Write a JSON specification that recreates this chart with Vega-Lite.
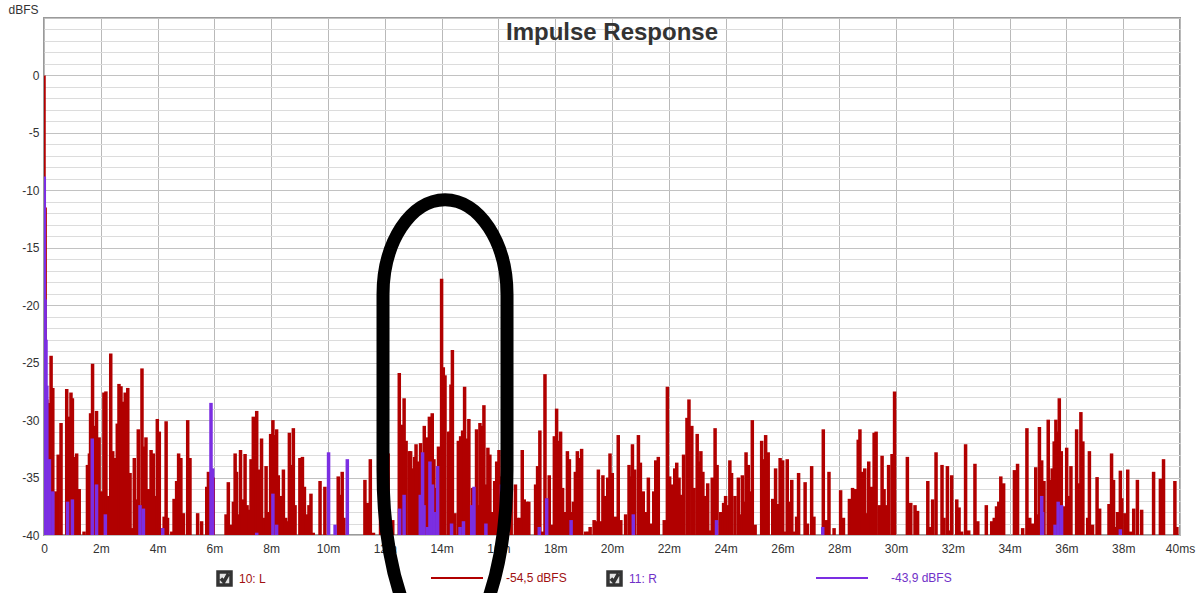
{
"$schema": "https://vega.github.io/schema/vega-lite/v6.json",
"width": 1136, "height": 517,
"autosize": {"type": "none"},
"padding": {"left": 44, "top": 18, "right": 20, "bottom": 58},
"background": "white",
"config": {"view": {"stroke": "#9a9a9a", "strokeWidth": 2}, "font": "Liberation Sans"},
"title": {"text": "Impulse Response", "font": "Liberation Sans", "fontSize": 24, "fontWeight": "bold", "color": "#333333", "anchor": "middle", "frame": "group", "orient": "top", "baseline": "top", "offset": -42},
"datasets": {
"note": [{"t": 14.12, "db": -30.4}],
"ir": [
{"t":0.00,"db":0.0,"ch":"L"},{"t":0.04,"db":-11.5,"ch":"L"},{"t":0.10,"db":-28.2,"ch":"L"},{"t":0.15,"db":-28.5,"ch":"L"},{"t":0.25,"db":-24.4,"ch":"L"},{"t":0.31,"db":-27.2,"ch":"L"},{"t":0.42,"db":-36.2,"ch":"L"},{"t":0.50,"db":-33.0,"ch":"L"},{"t":0.60,"db":-30.25,"ch":"L"},{"t":0.80,"db":-27.3,"ch":"L"},{"t":0.86,"db":-29.7,"ch":"L"},{"t":0.95,"db":-27.6,"ch":"L"},{"t":1.00,"db":-28.1,"ch":"L"},{"t":1.07,"db":-33.2,"ch":"L"},{"t":1.15,"db":-32.9,"ch":"L"},{"t":1.24,"db":-36.0,"ch":"L"},{"t":1.41,"db":-39.7,"ch":"L"},{"t":1.53,"db":-33.9,"ch":"L"},{"t":1.60,"db":-32.9,"ch":"L"},{"t":1.64,"db":-29.4,"ch":"L"},{"t":1.71,"db":-25.1,"ch":"L"},{"t":1.77,"db":-30.5,"ch":"L"},{"t":1.85,"db":-29.2,"ch":"L"},{"t":1.94,"db":-31.5,"ch":"L"},{"t":2.03,"db":-36.2,"ch":"L"},{"t":2.11,"db":-27.6,"ch":"L"},{"t":2.18,"db":-27.5,"ch":"L"},{"t":2.27,"db":-36.6,"ch":"L"},{"t":2.35,"db":-24.2,"ch":"L"},{"t":2.42,"db":-32.7,"ch":"L"},{"t":2.49,"db":-33.3,"ch":"L"},{"t":2.58,"db":-30.3,"ch":"L"},{"t":2.64,"db":-26.85,"ch":"L"},{"t":2.71,"db":-27.05,"ch":"L"},{"t":2.79,"db":-28.4,"ch":"L"},{"t":2.86,"db":-27.6,"ch":"L"},{"t":2.95,"db":-27.2,"ch":"L"},{"t":3.03,"db":-34.6,"ch":"L"},{"t":3.10,"db":-39.4,"ch":"L"},{"t":3.18,"db":-33.3,"ch":"L"},{"t":3.24,"db":-36.9,"ch":"L"},{"t":3.32,"db":-30.8,"ch":"L"},{"t":3.38,"db":-37.4,"ch":"L"},{"t":3.45,"db":-25.5,"ch":"L"},{"t":3.52,"db":-32.3,"ch":"L"},{"t":3.59,"db":-31.5,"ch":"L"},{"t":3.67,"db":-36.0,"ch":"L"},{"t":3.77,"db":-32.6,"ch":"L"},{"t":3.85,"db":-32.9,"ch":"L"},{"t":3.91,"db":-36.6,"ch":"L"},{"t":3.99,"db":-29.9,"ch":"L"},{"t":4.06,"db":-31.0,"ch":"L"},{"t":4.14,"db":-39.4,"ch":"L"},{"t":4.23,"db":-38.4,"ch":"L"},{"t":4.30,"db":-30.1,"ch":"L"},{"t":4.35,"db":-38.5,"ch":"L"},{"t":4.50,"db":-39.7,"ch":"L"},{"t":4.58,"db":-36.85,"ch":"L"},{"t":4.67,"db":-35.3,"ch":"L"},{"t":4.74,"db":-32.9,"ch":"L"},{"t":4.82,"db":-33.3,"ch":"L"},{"t":4.91,"db":-38.1,"ch":"L"},{"t":5.06,"db":-30.0,"ch":"L"},{"t":5.14,"db":-33.3,"ch":"L"},{"t":5.41,"db":-38.1,"ch":"L"},{"t":5.55,"db":-38.8,"ch":"L"},{"t":5.73,"db":-35.8,"ch":"L"},{"t":5.79,"db":-34.5,"ch":"L"},{"t":5.96,"db":-35.0,"ch":"L"},{"t":6.41,"db":-38.2,"ch":"L"},{"t":6.49,"db":-35.4,"ch":"L"},
{"t":6.58,"db":-39.1,"ch":"L"},{"t":6.67,"db":-37.1,"ch":"L"},{"t":6.73,"db":-32.9,"ch":"L"},{"t":6.78,"db":-34.5,"ch":"L"},{"t":6.84,"db":-38.2,"ch":"L"},{"t":6.92,"db":-32.6,"ch":"L"},{"t":6.98,"db":-36.9,"ch":"L"},{"t":7.08,"db":-32.95,"ch":"L"},{"t":7.15,"db":-37.4,"ch":"L"},{"t":7.23,"db":-37.8,"ch":"L"},{"t":7.29,"db":-33.4,"ch":"L"},{"t":7.37,"db":-29.7,"ch":"L"},{"t":7.49,"db":-29.2,"ch":"L"},{"t":7.55,"db":-34.3,"ch":"L"},{"t":7.66,"db":-31.6,"ch":"L"},{"t":7.76,"db":-38.5,"ch":"L"},{"t":7.82,"db":-34.0,"ch":"L"},{"t":7.90,"db":-38.0,"ch":"L"},{"t":7.98,"db":-31.2,"ch":"L"},{"t":8.06,"db":-30.0,"ch":"L"},{"t":8.13,"db":-31.3,"ch":"L"},{"t":8.19,"db":-30.8,"ch":"L"},{"t":8.25,"db":-34.8,"ch":"L"},{"t":8.35,"db":-36.6,"ch":"L"},{"t":8.43,"db":-34.3,"ch":"L"},{"t":8.51,"db":-38.5,"ch":"L"},{"t":8.60,"db":-38.8,"ch":"L"},{"t":8.64,"db":-31.1,"ch":"L"},{"t":8.72,"db":-33.9,"ch":"L"},{"t":8.78,"db":-30.7,"ch":"L"},{"t":8.84,"db":-37.4,"ch":"L"},{"t":9.01,"db":-33.3,"ch":"L"},{"t":9.10,"db":-33.2,"ch":"L"},{"t":9.17,"db":-35.8,"ch":"L"},{"t":9.25,"db":-38.2,"ch":"L"},{"t":9.33,"db":-37.4,"ch":"L"},{"t":9.40,"db":-36.4,"ch":"L"},{"t":9.48,"db":-39.8,"ch":"L"},{"t":9.72,"db":-35.3,"ch":"L"},{"t":9.89,"db":-35.8,"ch":"L"},{"t":10.36,"db":-34.9,"ch":"L"},{"t":10.45,"db":-36.5,"ch":"L"},{"t":10.50,"db":-34.5,"ch":"L"},{"t":10.56,"db":-38.5,"ch":"L"},{"t":11.30,"db":-35.2,"ch":"L"},{"t":11.40,"db":-37.2,"ch":"L"},{"t":11.49,"db":-33.4,"ch":"L"},{"t":11.60,"db":-39.8,"ch":"L"},{"t":11.85,"db":-36.0,"ch":"L"},{"t":11.95,"db":-37.0,"ch":"L"},{"t":12.12,"db":-32.9,"ch":"L"},{"t":12.28,"db":-38.7,"ch":"L"},{"t":12.51,"db":-25.9,"ch":"L"},{"t":12.59,"db":-30.4,"ch":"L"},{"t":12.68,"db":-28.1,"ch":"L"},{"t":12.75,"db":-31.8,"ch":"L"},{"t":12.86,"db":-32.7,"ch":"L"},
{"t":12.91,"db":-32.7,"ch":"L"},{"t":12.95,"db":-34.2,"ch":"L"},{"t":13.05,"db":-33.2,"ch":"L"},{"t":13.10,"db":-32.1,"ch":"L"},{"t":13.18,"db":-33.6,"ch":"L"},{"t":13.26,"db":-32.0,"ch":"L"},{"t":13.33,"db":-33.0,"ch":"L"},{"t":13.39,"db":-30.5,"ch":"L"},{"t":13.45,"db":-32.1,"ch":"L"},{"t":13.51,"db":-31.5,"ch":"L"},{"t":13.57,"db":-29.7,"ch":"L"},{"t":13.63,"db":-33.6,"ch":"L"},{"t":13.67,"db":-29.4,"ch":"L"},{"t":13.73,"db":-33.4,"ch":"L"},{"t":13.80,"db":-35.9,"ch":"L"},{"t":13.89,"db":-32.3,"ch":"L"},{"t":14.00,"db":-17.7,"ch":"L"},{"t":14.06,"db":-25.4,"ch":"L"},{"t":14.12,"db":-26.1,"ch":"L"},{"t":14.25,"db":-31.0,"ch":"L"},{"t":14.30,"db":-31.0,"ch":"L"},{"t":14.33,"db":-26.9,"ch":"L"},{"t":14.38,"db":-23.9,"ch":"L"},{"t":14.47,"db":-38.1,"ch":"L"},{"t":14.59,"db":-31.8,"ch":"L"},{"t":14.67,"db":-31.4,"ch":"L"},{"t":14.74,"db":-30.9,"ch":"L"},{"t":14.81,"db":-27.1,"ch":"L"},{"t":14.88,"db":-31.6,"ch":"L"},{"t":14.96,"db":-29.9,"ch":"L"},{"t":15.04,"db":-37.7,"ch":"L"},{"t":15.09,"db":-35.9,"ch":"L"},{"t":15.16,"db":-36.6,"ch":"L"},{"t":15.23,"db":-30.8,"ch":"L"},{"t":15.29,"db":-37.4,"ch":"L"},{"t":15.35,"db":-30.25,"ch":"L"},{"t":15.41,"db":-30.5,"ch":"L"},{"t":15.49,"db":-28.7,"ch":"L"},{"t":15.56,"db":-35.6,"ch":"L"},{"t":15.63,"db":-32.4,"ch":"L"},{"t":15.70,"db":-33.0,"ch":"L"},{"t":15.77,"db":-38.0,"ch":"L"},{"t":15.87,"db":-35.3,"ch":"L"},{"t":15.94,"db":-33.6,"ch":"L"},{"t":16.02,"db":-32.6,"ch":"L"},{"t":16.09,"db":-34.9,"ch":"L"},{"t":16.17,"db":-32.0,"ch":"L"},{"t":16.30,"db":-33.0,"ch":"L"},{"t":16.45,"db":-36.0,"ch":"L"},{"t":16.60,"db":-35.6,"ch":"L"},{"t":16.67,"db":-38.5,"ch":"L"},{"t":16.76,"db":-38.5,"ch":"L"},{"t":16.84,"db":-32.6,"ch":"L"},{"t":16.91,"db":-36.9,"ch":"L"},{"t":17.00,"db":-37.1,"ch":"L"},{"t":17.07,"db":-37.1,"ch":"L"},{"t":17.31,"db":-35.6,"ch":"L"},{"t":17.38,"db":-34.0,"ch":"L"},{"t":17.46,"db":-30.9,"ch":"L"},{"t":17.55,"db":-39.7,"ch":"L"},{"t":17.64,"db":-26.0,"ch":"L"},{"t":17.72,"db":-36.8,"ch":"L"},{"t":17.79,"db":-34.8,"ch":"L"},{"t":17.88,"db":-39.1,"ch":"L"},{"t":17.97,"db":-31.4,"ch":"L"},{"t":18.05,"db":-29.0,"ch":"L"},{"t":18.12,"db":-31.8,"ch":"L"},{"t":18.19,"db":-31.0,"ch":"L"},{"t":18.26,"db":-35.9,"ch":"L"},{"t":18.33,"db":-38.0,"ch":"L"},{"t":18.43,"db":-32.7,"ch":"L"},{"t":18.50,"db":-33.4,"ch":"L"},{"t":18.57,"db":-38.0,"ch":"L"},{"t":18.64,"db":-37.1,"ch":"L"},{"t":18.71,"db":-34.5,"ch":"L"},{"t":18.78,"db":-32.7,"ch":"L"},{"t":18.85,"db":-33.3,"ch":"L"},{"t":18.93,"db":-32.5,"ch":"L"},{"t":19.07,"db":-39.7,"ch":"L"},{"t":19.17,"db":-39.7,"ch":"L"},{"t":19.23,"db":-39.3,"ch":"L"},{"t":19.37,"db":-38.7,"ch":"L"},
{"t":19.44,"db":-38.8,"ch":"L"},{"t":19.52,"db":-34.3,"ch":"L"},{"t":19.61,"db":-38.8,"ch":"L"},{"t":19.68,"db":-34.8,"ch":"L"},{"t":19.75,"db":-36.6,"ch":"L"},{"t":19.85,"db":-35.0,"ch":"L"},{"t":19.93,"db":-32.9,"ch":"L"},{"t":20.01,"db":-34.6,"ch":"L"},{"t":20.13,"db":-38.4,"ch":"L"},{"t":20.22,"db":-31.3,"ch":"L"},{"t":20.31,"db":-38.7,"ch":"L"},{"t":20.48,"db":-38.2,"ch":"L"},{"t":20.60,"db":-33.9,"ch":"L"},{"t":20.67,"db":-34.9,"ch":"L"},{"t":20.72,"db":-32.1,"ch":"L"},{"t":20.80,"db":-34.3,"ch":"L"},{"t":20.93,"db":-31.3,"ch":"L"},{"t":21.00,"db":-33.7,"ch":"L"},{"t":21.10,"db":-36.2,"ch":"L"},{"t":21.17,"db":-38.0,"ch":"L"},{"t":21.28,"db":-35.0,"ch":"L"},{"t":21.40,"db":-39.0,"ch":"L"},{"t":21.47,"db":-36.2,"ch":"L"},{"t":21.54,"db":-33.5,"ch":"L"},{"t":21.63,"db":-33.2,"ch":"L"},{"t":21.84,"db":-38.7,"ch":"L"},{"t":21.95,"db":-27.1,"ch":"L"},{"t":22.03,"db":-34.9,"ch":"L"},{"t":22.12,"db":-35.6,"ch":"L"},{"t":22.21,"db":-34.2,"ch":"L"},{"t":22.28,"db":-33.7,"ch":"L"},{"t":22.36,"db":-35.0,"ch":"L"},{"t":22.45,"db":-36.5,"ch":"L"},{"t":22.52,"db":-33.0,"ch":"L"},{"t":22.64,"db":-29.8,"ch":"L"},{"t":22.71,"db":-28.2,"ch":"L"},{"t":22.81,"db":-30.5,"ch":"L"},{"t":22.89,"db":-35.9,"ch":"L"},{"t":23.00,"db":-31.2,"ch":"L"},{"t":23.07,"db":-33.6,"ch":"L"},{"t":23.13,"db":-32.7,"ch":"L"},{"t":23.20,"db":-34.5,"ch":"L"},{"t":23.30,"db":-36.6,"ch":"L"},{"t":23.37,"db":-35.5,"ch":"L"},{"t":23.45,"db":-39.6,"ch":"L"},{"t":23.53,"db":-35.0,"ch":"L"},{"t":23.63,"db":-30.7,"ch":"L"},{"t":23.70,"db":-33.9,"ch":"L"},{"t":23.83,"db":-38.0,"ch":"L"},{"t":23.93,"db":-37.2,"ch":"L"},{"t":24.00,"db":-36.6,"ch":"L"},{"t":24.08,"db":-37.4,"ch":"L"},{"t":24.15,"db":-33.5,"ch":"L"},{"t":24.21,"db":-34.6,"ch":"L"},{"t":24.33,"db":-36.6,"ch":"L"},{"t":24.45,"db":-35.0,"ch":"L"},{"t":24.52,"db":-38.2,"ch":"L"},{"t":24.59,"db":-34.8,"ch":"L"},{"t":24.66,"db":-37.1,"ch":"L"},{"t":24.72,"db":-32.8,"ch":"L"},{"t":24.80,"db":-33.9,"ch":"L"},{"t":24.87,"db":-36.2,"ch":"L"},{"t":24.94,"db":-30.0,"ch":"L"},{"t":25.04,"db":-39.1,"ch":"L"},{"t":25.27,"db":-31.8,"ch":"L"},{"t":25.35,"db":-33.4,"ch":"L"},{"t":25.41,"db":-31.3,"ch":"L"},{"t":25.50,"db":-32.8,"ch":"L"},{"t":25.66,"db":-36.85,"ch":"L"},{"t":25.76,"db":-34.2,"ch":"L"},{"t":25.83,"db":-37.3,"ch":"L"},{"t":25.92,"db":-33.3,"ch":"L"},{"t":26.01,"db":-33.5,"ch":"L"},
{"t":26.09,"db":-39.7,"ch":"L"},{"t":26.17,"db":-33.4,"ch":"L"},{"t":26.24,"db":-37.1,"ch":"L"},{"t":26.33,"db":-35.2,"ch":"L"},{"t":26.41,"db":-39.7,"ch":"L"},{"t":26.50,"db":-38.4,"ch":"L"},{"t":26.57,"db":-34.6,"ch":"L"},{"t":26.80,"db":-35.4,"ch":"L"},{"t":26.88,"db":-39.0,"ch":"L"},{"t":27.03,"db":-34.0,"ch":"L"},{"t":27.11,"db":-38.4,"ch":"L"},{"t":27.44,"db":-30.8,"ch":"L"},{"t":27.56,"db":-38.7,"ch":"L"},{"t":27.64,"db":-34.5,"ch":"L"},{"t":27.82,"db":-39.4,"ch":"L"},{"t":28.05,"db":-36.1,"ch":"L"},{"t":28.15,"db":-38.5,"ch":"L"},{"t":28.36,"db":-36.85,"ch":"L"},{"t":28.47,"db":-35.9,"ch":"L"},{"t":28.57,"db":-36.0,"ch":"L"},{"t":28.67,"db":-31.7,"ch":"L"},{"t":28.73,"db":-30.8,"ch":"L"},{"t":28.81,"db":-34.5,"ch":"L"},{"t":28.90,"db":-34.2,"ch":"L"},{"t":28.97,"db":-38.1,"ch":"L"},{"t":29.04,"db":-33.6,"ch":"L"},{"t":29.13,"db":-35.8,"ch":"L"},{"t":29.23,"db":-31.1,"ch":"L"},{"t":29.30,"db":-31.0,"ch":"L"},{"t":29.41,"db":-37.4,"ch":"L"},{"t":29.51,"db":-33.1,"ch":"L"},{"t":29.58,"db":-36.0,"ch":"L"},{"t":29.65,"db":-37.4,"ch":"L"},{"t":29.74,"db":-33.9,"ch":"L"},{"t":29.86,"db":-32.95,"ch":"L"},{"t":29.95,"db":-27.5,"ch":"L"},{"t":30.40,"db":-33.2,"ch":"L"},{"t":30.52,"db":-37.2,"ch":"L"},{"t":30.67,"db":-37.4,"ch":"L"},{"t":30.76,"db":-37.9,"ch":"L"},{"t":31.12,"db":-35.3,"ch":"L"},{"t":31.20,"db":-39.3,"ch":"L"},{"t":31.29,"db":-36.9,"ch":"L"},{"t":31.41,"db":-32.8,"ch":"L"},{"t":31.62,"db":-33.9,"ch":"L"},{"t":31.69,"db":-38.5,"ch":"L"},{"t":31.81,"db":-34.0,"ch":"L"},{"t":31.88,"db":-39.6,"ch":"L"},{"t":31.96,"db":-34.8,"ch":"L"},{"t":32.14,"db":-36.9,"ch":"L"},{"t":32.22,"db":-37.6,"ch":"L"},{"t":32.31,"db":-39.7,"ch":"L"},{"t":32.45,"db":-32.1,"ch":"L"},{"t":32.56,"db":-39.6,"ch":"L"},
{"t":32.78,"db":-33.8,"ch":"L"},{"t":32.88,"db":-38.8,"ch":"L"},{"t":33.18,"db":-37.4,"ch":"L"},{"t":33.37,"db":-38.8,"ch":"L"},{"t":33.46,"db":-38.5,"ch":"L"},{"t":33.54,"db":-37.5,"ch":"L"},{"t":33.62,"db":-37.1,"ch":"L"},{"t":33.69,"db":-34.9,"ch":"L"},{"t":33.79,"db":-35.5,"ch":"L"},{"t":34.17,"db":-34.35,"ch":"L"},{"t":34.28,"db":-33.8,"ch":"L"},{"t":34.46,"db":-39.4,"ch":"L"},{"t":34.61,"db":-30.7,"ch":"L"},{"t":34.71,"db":-38.5,"ch":"L"},{"t":34.80,"db":-39.0,"ch":"L"},{"t":34.92,"db":-34.1,"ch":"L"},{"t":34.98,"db":-38.2,"ch":"L"},{"t":35.05,"db":-30.6,"ch":"L"},{"t":35.13,"db":-33.5,"ch":"L"},{"t":35.21,"db":-35.3,"ch":"L"},{"t":35.36,"db":-29.96,"ch":"L"},{"t":35.43,"db":-35.2,"ch":"L"},{"t":35.50,"db":-34.2,"ch":"L"},{"t":35.57,"db":-31.85,"ch":"L"},{"t":35.63,"db":-29.96,"ch":"L"},{"t":35.69,"db":-31.0,"ch":"L"},{"t":35.75,"db":-28.1,"ch":"L"},{"t":35.82,"db":-32.7,"ch":"L"},{"t":35.90,"db":-37.5,"ch":"L"},{"t":36.01,"db":-32.4,"ch":"L"},{"t":36.07,"db":-36.6,"ch":"L"},{"t":36.16,"db":-34.0,"ch":"L"},{"t":36.36,"db":-30.8,"ch":"L"},{"t":36.44,"db":-35.5,"ch":"L"},{"t":36.51,"db":-29.3,"ch":"L"},{"t":36.58,"db":-31.85,"ch":"L"},{"t":36.75,"db":-38.5,"ch":"L"},{"t":36.81,"db":-32.7,"ch":"L"},{"t":36.92,"db":-39.1,"ch":"L"},{"t":37.08,"db":-34.96,"ch":"L"},{"t":37.17,"db":-37.7,"ch":"L"},{"t":37.50,"db":-37.3,"ch":"L"},{"t":37.59,"db":-32.9,"ch":"L"},{"t":37.66,"db":-35.2,"ch":"L"},{"t":37.73,"db":-39.3,"ch":"L"},{"t":37.80,"db":-38.0,"ch":"L"},{"t":37.90,"db":-34.4,"ch":"L"},{"t":37.95,"db":-36.8,"ch":"L"},{"t":38.06,"db":-38.1,"ch":"L"},{"t":38.16,"db":-34.3,"ch":"L"},{"t":38.26,"db":-39.7,"ch":"L"},{"t":38.37,"db":-37.7,"ch":"L"},{"t":38.50,"db":-35.2,"ch":"L"},{"t":38.65,"db":-37.8,"ch":"L"},{"t":39.07,"db":-34.5,"ch":"L"},{"t":39.31,"db":-35.1,"ch":"L"},{"t":39.42,"db":-33.4,"ch":"L"},{"t":39.82,"db":-35.3,"ch":"L"},{"t":39.89,"db":-39.3,"ch":"L"},
{"t":0.01,"db":-8.8,"ch":"R"},{"t":0.04,"db":-19.5,"ch":"R"},{"t":0.07,"db":-23.0,"ch":"R"},{"t":0.10,"db":-27.0,"ch":"R"},{"t":0.19,"db":-33.4,"ch":"R"},{"t":0.31,"db":-36.2,"ch":"R"},{"t":0.83,"db":-37.1,"ch":"R"},{"t":1.00,"db":-36.9,"ch":"R"},{"t":1.70,"db":-31.6,"ch":"R"},{"t":1.85,"db":-35.6,"ch":"R"},{"t":2.16,"db":-38.2,"ch":"R"},{"t":3.38,"db":-37.4,"ch":"R"},{"t":3.50,"db":-37.7,"ch":"R"},{"t":4.18,"db":-39.4,"ch":"R"},{"t":5.88,"db":-28.5,"ch":"R"},{"t":5.94,"db":-34.2,"ch":"R"},{"t":7.49,"db":-39.8,"ch":"R"},{"t":8.06,"db":-36.4,"ch":"R"},{"t":8.19,"db":-39.1,"ch":"R"},{"t":10.02,"db":-32.8,"ch":"R"},{"t":10.25,"db":-39.1,"ch":"R"},{"t":10.68,"db":-33.4,"ch":"R"},{"t":12.52,"db":-37.7,"ch":"R"},{"t":12.68,"db":-36.5,"ch":"R"},{"t":13.25,"db":-36.5,"ch":"R"},{"t":13.33,"db":-32.8,"ch":"R"},{"t":13.38,"db":-37.4,"ch":"R"},{"t":13.50,"db":-39.3,"ch":"R"},{"t":13.59,"db":-33.6,"ch":"R"},{"t":13.68,"db":-35.6,"ch":"R"},{"t":13.74,"db":-38.0,"ch":"R"},{"t":13.86,"db":-34.0,"ch":"R"},{"t":14.35,"db":-39.0,"ch":"R"},{"t":14.65,"db":-39.3,"ch":"R"},{"t":14.77,"db":-38.8,"ch":"R"},{"t":15.06,"db":-37.4,"ch":"R"},{"t":15.14,"db":-35.8,"ch":"R"},{"t":15.56,"db":-39.0,"ch":"R"},{"t":16.11,"db":-35.6,"ch":"R"},{"t":17.44,"db":-39.3,"ch":"R"},{"t":17.70,"db":-36.8,"ch":"R"},{"t":18.56,"db":-38.7,"ch":"R"},{"t":20.75,"db":-38.2,"ch":"R"},{"t":23.68,"db":-38.7,"ch":"R"},{"t":27.42,"db":-39.3,"ch":"R"},{"t":35.13,"db":-36.6,"ch":"R"},{"t":35.16,"db":-38.0,"ch":"R"},{"t":35.60,"db":-39.1,"ch":"R"},{"t":35.71,"db":-37.1,"ch":"R"},{"t":35.83,"db":-37.4,"ch":"R"},{"t":37.90,"db":-39.5,"ch":"R"}
]
},
"layer": [
{
"data": {"name": "ir"},
"mark": {"type": "rule", "opacity": 1, "clip": true},
"encoding": {
"x": {"field": "t", "type": "quantitative", "scale": {"domain": [0, 40], "nice": false, "zero": false},
  "axis": {"values": [0,2,4,6,8,10,12,14,16,18,20,22,24,26,28,30,32,34,36,38,40], "labelExpr": "datum.value === 0 ? '0' : datum.value === 40 ? '40ms' : datum.value + 'm'", "title": null, "ticks": false, "tickSize": 0, "domain": false, "grid": true, "gridColor": "#b9b9b9", "gridOpacity": 1, "labelPadding": 8, "labelFont": "Liberation Sans", "labelFontSize": 12, "labelColor": "#333333", "labelFlush": false, "labelOverlap": false}},
"y": {"field": "db", "type": "quantitative", "scale": {"domain": [-40, 5], "nice": false, "zero": false},
  "axis": {"tickCount": 45, "labelExpr": "datum.value % 5 === 0 && datum.value <= 0 ? '' + datum.value : ''", "title": "dBFS", "titleAngle": 0, "titleX": -6, "titleY": -5, "titleAlign": "right", "titleBaseline": "alphabetic", "titleFont": "Liberation Sans", "titleFontSize": 12, "titleFontWeight": "normal", "titleColor": "#333333", "ticks": false, "tickSize": 0, "domain": false, "grid": true, "gridOpacity": 1, "gridColor": {"condition": {"test": "datum.value % 5 === 0", "value": "#c2c2c2"}, "value": "#dcdcdc"}, "labelPadding": 5, "labelFont": "Liberation Sans", "labelFontSize": 12, "labelColor": "#333333", "labelOverlap": false, "labelBaseline": "middle"}},
"y2": {"datum": -40},
"color": {"field": "ch", "type": "nominal", "scale": {"range": ["#b10000", "#7b2ee2"]},
  "legend": {"orient": "none", "legendX": 386, "legendY": 533, "direction": "horizontal", "title": null, "symbolType": "stroke", "symbolSize": 2704, "symbolStrokeWidth": 2, "labelExpr": "datum.value === 'L' ? '-54,5 dBFS' : '-43,9 dBFS'", "labelFont": "Liberation Sans", "labelFontSize": 12, "labelColor": {"expr": "datum.value === 'L' ? '#a01010' : '#7030c8'"}, "labelOffset": 22, "columnPadding": 245, "padding": 0,
    "encode": {"symbols": {"strokeWidth": {"value": 2}}}}},
"strokeWidth": {"field": "ch", "type": "nominal", "scale": {"type": "ordinal", "domain": ["L", "R"], "range": [3.5, 3.5]},
  "legend": {"orient": "none", "legendX": 172, "legendY": 552, "direction": "horizontal", "title": null, "symbolType": "M -1 -1 L 1 -1 L 1 1 L -1 1 Z M -0.55 0 L -0.1 0.5 L 0.6 -0.7", "symbolSize": 169, "symbolFillColor": "#e4e4e4", "symbolStrokeColor": "#333333", "labelExpr": "datum.value === 'L' ? '10: L' : '11: R'", "labelFont": "Liberation Sans", "labelFontSize": 12, "labelColor": {"expr": "datum.value === 'L' ? '#a01010' : '#7030c8'"}, "labelOffset": 6, "columnPadding": 335, "padding": 0,
    "encode": {"symbols": {"strokeWidth": {"value": 1.3}, "fill": {"value": "#e8e8e8"}, "stroke": {"value": "#444444"}}}}}
}
},
{
"data": {"name": "note"},
"mark": {"type": "point", "shape": "M -0.62 -1.3 C -0.62 -1.825 -0.342 -2.25 0 -2.25 C 0.342 -2.25 0.62 -1.825 0.62 -1.3 L 0.62 0.45 C 0.62 1.45 0.342 2.26 0 2.26 C -0.342 2.26 -0.62 1.45 -0.62 0.45 Z", "size": 40000, "filled": false, "stroke": "black", "strokeWidth": 13, "opacity": 1, "clip": false},
"encoding": {
"x": {"field": "t", "type": "quantitative"},
"y": {"field": "db", "type": "quantitative"}
}
}
]
}
